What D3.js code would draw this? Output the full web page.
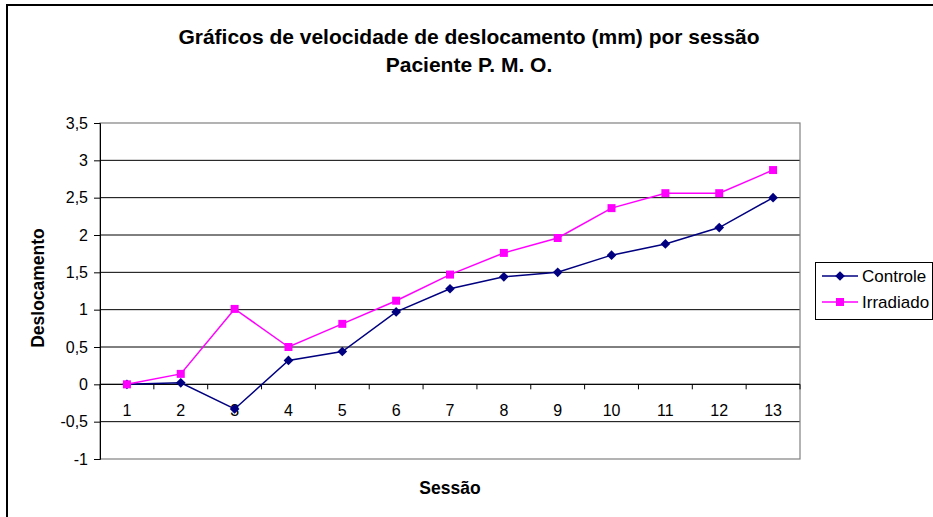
<!DOCTYPE html>
<html>
<head>
<meta charset="utf-8">
<script src="https://cdn.jsdelivr.net/npm/d3@7"></script>
<style>
  html, body { margin: 0; padding: 0; background: #fff; }
  svg { display: block; font-family: "Liberation Sans", Arial, sans-serif; }
</style>
</head>
<body>
<svg id="chart" width="933" height="517"></svg>
<script>
// Sessions on the category axis
const sessions = ["1","2","3","4","5","6","7","8","9","10","11","12","13"];
// Displacement per session (mm)
const controle   = [0, 0.02, -0.33, 0.32, 0.44, 0.97, 1.28, 1.44, 1.50, 1.73, 1.88, 2.10, 2.50];
const irradiado  = [0, 0.14, 1.01, 0.50, 0.81, 1.12, 1.47, 1.76, 1.96, 2.36, 2.56, 2.56, 2.87];
const seriesNames = ["Controle", "Irradiado"];
const yTicks = [-1, -0.5, 0, 0.5, 1, 1.5, 2, 2.5, 3, 3.5];
const titleLines = ["Gráficos de velocidade de deslocamento (mm) por sessão", "Paciente P. M. O."];

const svg = d3.select("#chart");
const plot = { left: 100, right: 800, top: 123, bottom: 459 };

const fmt = v => String(v).replace(".", ",");

// Outer chart frame (runs past the right and bottom edges)
svg.append("path")
  .attr("d", "M7,520 L7,5 L940,5")
  .attr("fill", "none").attr("stroke", "#000").attr("stroke-width", 2);

const x = d3.scaleBand().domain(sessions).range([plot.left, plot.right]).padding(0);
const y = d3.scaleLinear().domain([-1, 3.5]).range([plot.bottom, plot.top]);

// Horizontal gridlines
svg.append("g").selectAll("line").data(yTicks.filter(t => t > -1 && t < 3.5)).join("line")
  .attr("x1", plot.left).attr("x2", plot.right)
  .attr("y1", d => y(d)).attr("y2", d => y(d))
  .attr("stroke", "#000").attr("stroke-width", 1);

// Plot area border
svg.append("rect")
  .attr("x", plot.left).attr("y", plot.top)
  .attr("width", plot.right - plot.left).attr("height", plot.bottom - plot.top)
  .attr("fill", "none").attr("stroke", "#808080").attr("stroke-width", 1.2);

// Value axis
const yAxis = svg.append("g")
  .attr("transform", `translate(${plot.left},0)`)
  .call(d3.axisLeft(y).tickValues(yTicks).tickSize(6).tickPadding(6).tickFormat(fmt));
yAxis.select(".domain").attr("stroke", "#000");
yAxis.selectAll(".tick line").attr("stroke", "#000");
yAxis.selectAll("text").attr("font-size", 16).attr("fill", "#000")
  .attr("font-family", "'Liberation Sans', Arial, sans-serif");

// Category axis crossing at zero
const xAxisG = svg.append("g").attr("transform", `translate(0,${y(0)})`);
xAxisG.append("line").attr("x1", plot.left).attr("x2", plot.right)
  .attr("stroke", "#000").attr("stroke-width", 1);
const bounds = d3.range(sessions.length + 1).map(i => plot.left + i * x.bandwidth());
xAxisG.selectAll("line.tk").data(bounds).join("line").attr("class", "tk")
  .attr("x1", d => d).attr("x2", d => d).attr("y1", 0).attr("y2", 5)
  .attr("stroke", "#000");
xAxisG.selectAll("text").data(sessions).join("text")
  .attr("x", d => x(d) + x.bandwidth() / 2).attr("y", 32)
  .attr("text-anchor", "middle").attr("font-size", 16).attr("fill", "#000")
  .text(d => d);

// Series
const line = d3.line().x((d, i) => x(sessions[i]) + x.bandwidth() / 2).y(d => y(d));
const colors = ["#000080", "#FF00FF"];
const data = [controle, irradiado];
const diamond = d3.symbol().type(d3.symbolDiamond2).size(60);
const square = d3.symbol().type(d3.symbolSquare).size(64);
const symbols = [diamond, square];

data.forEach((vals, s) => {
  svg.append("path").datum(vals)
    .attr("d", line).attr("fill", "none")
    .attr("stroke", colors[s]).attr("stroke-width", 1.5);
  svg.append("g").selectAll("path").data(vals).join("path")
    .attr("transform", (d, i) => `translate(${x(sessions[i]) + x.bandwidth() / 2},${y(d)})`)
    .attr("d", symbols[s]())
    .attr("fill", colors[s]);
});

// Title
svg.append("g").selectAll("text").data(titleLines).join("text")
  .attr("x", 469).attr("y", (d, i) => 44 + i * 28)
  .attr("text-anchor", "middle").attr("font-size", 21).attr("font-weight", "bold")
  .attr("fill", "#000").text(d => d);

// Axis titles
svg.append("text").attr("x", 450).attr("y", 494).attr("text-anchor", "middle")
  .attr("font-size", 17.5).attr("font-weight", "bold").attr("fill", "#000").text("Sessão");
svg.append("text").attr("transform", "translate(44,288) rotate(-90)")
  .attr("text-anchor", "middle").attr("font-size", 17.5).attr("font-weight", "bold")
  .attr("fill", "#000").text("Deslocamento");

// Legend
const lg = svg.append("g");
lg.append("rect").attr("x", 815.5).attr("y", 262.5).attr("width", 117).attr("height", 57)
  .attr("fill", "#fff").attr("stroke", "#000").attr("stroke-width", 1);
seriesNames.forEach((name, s) => {
  const cy = 276 + s * 26;
  lg.append("line").attr("x1", 822).attr("x2", 858).attr("y1", cy).attr("y2", cy)
    .attr("stroke", colors[s]).attr("stroke-width", 1.5);
  lg.append("path").attr("transform", `translate(840,${cy})`).attr("d", symbols[s]())
    .attr("fill", colors[s]);
  lg.append("text").attr("x", 862).attr("y", cy + 6).attr("font-size", 17)
    .attr("fill", "#000").text(name);
});
</script>
</body>
</html>
